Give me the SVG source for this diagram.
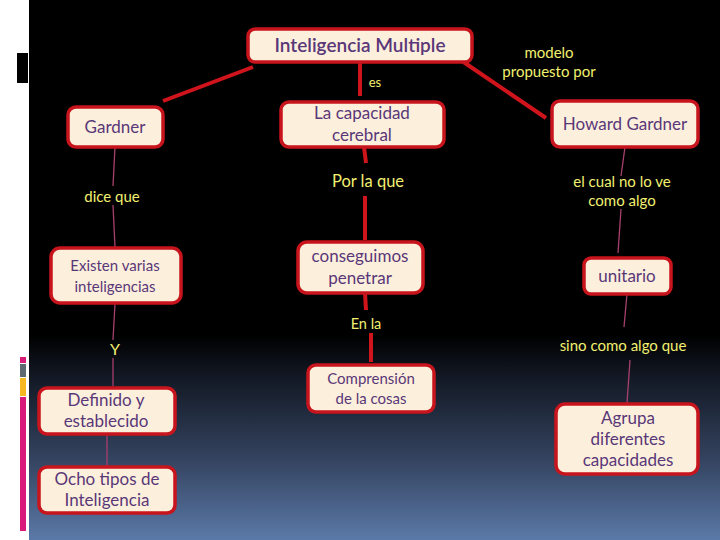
<svg xmlns="http://www.w3.org/2000/svg" width="720" height="540" viewBox="0 0 720 540">
<defs>
<linearGradient id="bg" x1="0" y1="0" x2="0" y2="1">
<stop offset="0" stop-color="#000"/>
<stop offset="0.62" stop-color="#000"/>
<stop offset="0.7" stop-color="#131925"/>
<stop offset="0.85" stop-color="#34435f"/>
<stop offset="1" stop-color="#5b79a8"/>
</linearGradient>
<style>
.node rect{fill:#fcf0dd;stroke:#c8141c;stroke-width:3.5}
.node text{font-family:Lato,"Open Sans","Liberation Sans",sans-serif;fill:#5a3778;text-anchor:middle;font-size:17px}
.node text.s{font-size:15px}
.lbl{font-family:Lato,"Open Sans","Liberation Sans",sans-serif;fill:#f2f070;text-anchor:middle;font-size:15px}
.thick{stroke:#d0141c;stroke-width:4;fill:none}
.thin{stroke:#a8406e;stroke-width:1.3;fill:none}
</style>
</defs>
<rect x="0" y="0" width="720" height="540" fill="#fff"/>
<rect x="29" y="0" width="691" height="540" fill="url(#bg)"/>
<rect x="17" y="53" width="11" height="30" fill="#000"/>
<rect x="20" y="357" width="6" height="6" fill="#d81b7a"/>
<rect x="20" y="364" width="6" height="13" fill="#5d6870"/>
<rect x="20" y="378" width="6" height="18" fill="#f5b820"/>
<rect x="20" y="397" width="6" height="134" fill="#d81b7a"/>

<g id="connectors">
<line class="thick" x1="253" y1="67" x2="163" y2="101"/>
<line class="thick" x1="462" y1="61" x2="546" y2="118"/>
<line class="thick" x1="360" y1="62" x2="360" y2="96"/>
<line class="thick" x1="364" y1="147" x2="366" y2="163"/>
<line class="thick" x1="365" y1="196" x2="365" y2="240"/>
<line class="thick" x1="365" y1="293" x2="366" y2="310"/>
<line class="thick" x1="371" y1="333" x2="371" y2="362"/>
<line class="thin" x1="115" y1="147" x2="113" y2="186"/>
<line class="thin" x1="113" y1="205" x2="115" y2="247"/>
<line class="thin" x1="115" y1="304" x2="113" y2="340"/>
<line class="thin" x1="113" y1="358" x2="113" y2="386"/>
<line class="thin" x1="107" y1="434" x2="107" y2="466"/>
<line class="thin" x1="625" y1="147" x2="621" y2="176"/>
<line class="thin" x1="621" y1="209" x2="618" y2="253"/>
<line class="thin" x1="627" y1="294" x2="624" y2="327"/>
<line class="thin" x1="630" y1="360" x2="627" y2="403"/>
</g>

<g id="labels">
<text class="lbl" x="375" y="87" style="font-size:13px">es</text>
<text class="lbl" x="549" y="58">modelo</text>
<text class="lbl" x="549" y="77">propuesto por</text>
<text class="lbl" x="368" y="187" style="font-size:16.5px">Por la que</text>
<text class="lbl" x="112" y="202">dice que</text>
<text class="lbl" x="622" y="187">el cual no lo ve</text>
<text class="lbl" x="622" y="206">como algo</text>
<text class="lbl" x="366" y="329" style="font-size:14.5px">En la</text>
<text class="lbl" x="115" y="355" style="font-size:16px">Y</text>
<text class="lbl" x="623" y="351">sino como algo que</text>
</g>

<g id="n-inteligencia" class="node">
<rect x="248" y="29" width="224" height="33" rx="7"/>
<text x="360" y="52" style="font-size:19px;font-weight:600">Inteligencia Multiple</text>
</g>
<g id="n-gardner" class="node">
<rect x="68" y="107" width="95" height="40" rx="8"/>
<text x="115" y="133">Gardner</text>
</g>
<g id="n-capacidad" class="node">
<rect x="281" y="102" width="163" height="45" rx="8"/>
<text x="362" y="119">La capacidad</text>
<text x="362" y="141">cerebral</text>
</g>
<g id="n-howard" class="node">
<rect x="552" y="101" width="146" height="46" rx="8"/>
<text x="625" y="130">Howard Gardner</text>
</g>
<g id="n-existen" class="node">
<rect x="51" y="248" width="130" height="55" rx="9"/>
<text class="s" x="115" y="271">Existen varias</text>
<text class="s" x="115" y="292">inteligencias</text>
</g>
<g id="n-conseguimos" class="node">
<rect x="298" y="242" width="125" height="51" rx="9"/>
<text x="360" y="262">conseguimos</text>
<text x="360" y="284">penetrar</text>
</g>
<g id="n-unitario" class="node">
<rect x="584" y="258" width="87" height="36" rx="7"/>
<text x="627" y="282">unitario</text>
</g>
<g id="n-comprension" class="node">
<rect x="308" y="365" width="126" height="47" rx="8"/>
<text class="s" x="371" y="384">Comprensión</text>
<text class="s" x="371" y="404">de la cosas</text>
</g>
<g id="n-definido" class="node">
<rect x="39" y="388" width="136" height="46" rx="8"/>
<text x="106" y="406">Definido y</text>
<text x="106" y="427">establecido</text>
</g>
<g id="n-ocho" class="node">
<rect x="39" y="467" width="136" height="46" rx="8"/>
<text x="107" y="485">Ocho tipos de</text>
<text x="107" y="506">Inteligencia</text>
</g>
<g id="n-agrupa" class="node">
<rect x="556" y="404" width="142" height="70" rx="9"/>
<text x="628" y="424">Agrupa</text>
<text x="628" y="445">diferentes</text>
<text x="628" y="466">capacidades</text>
</g>
</svg>
